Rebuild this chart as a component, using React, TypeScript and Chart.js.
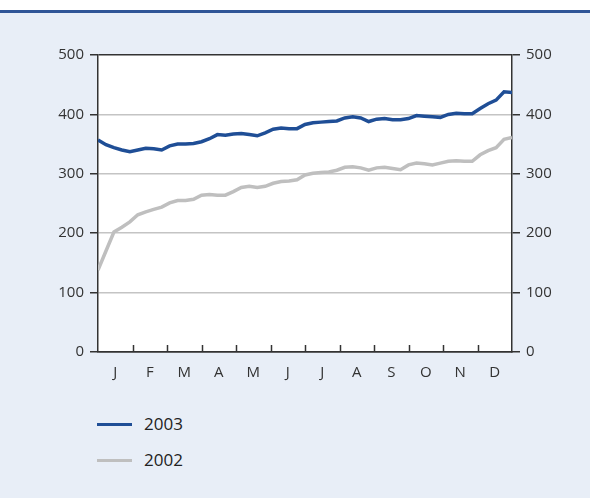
import React, { useEffect, useRef } from "react";
import { Chart, registerables } from "chart.js";

Chart.register(...registerables);

const MONTHS = ["J", "F", "M", "A", "M", "J", "J", "A", "S", "O", "N", "D"];
const Y_TICKS = [0, 100, 200, 300, 400, 500];
const SERIES_LABELS = ["2003", "2002"];

// weekly values, week 0..52
const VALUES_2003 = [
  357, 349, 344, 340, 337, 340, 343, 342, 340, 347, 350, 350, 351, 354, 359, 366,
  365, 367, 368, 366, 364, 369, 375, 377, 376, 376, 383, 386, 387, 388, 389, 394,
  396, 394, 388, 392, 393, 391, 391, 393, 398, 397, 396, 395, 400, 402, 401, 401,
  410, 418, 424, 438, 437,
];
const VALUES_2002 = [
  138, 170, 202, 210, 219, 231, 236, 240, 244, 251, 255, 255, 257, 264, 265, 264,
  264, 270, 277, 279, 277, 279, 284, 287, 288, 290, 298, 301, 302, 303, 306, 311,
  312, 310, 306, 310, 311, 309, 307, 315, 318, 317, 315, 318, 321, 322, 321, 321,
  332, 339, 344, 358, 361,
];

const BLUE = "#1f4e96";
const GREY = "#bfbfbf";
const BG = "#e8eef7";
const DARK = "#333333";
const FONT = "'Open Sans', 'Noto Sans', sans-serif";

const plotBg = {
  id: "plotBg",
  beforeDraw(chart: any) {
    const { ctx, chartArea } = chart;
    ctx.save();
    ctx.fillStyle = "#ffffff";
    ctx.fillRect(chartArea.left, chartArea.top, chartArea.right - chartArea.left, chartArea.bottom - chartArea.top);
    ctx.restore();
  },
};

const innerTicks = {
  id: "innerTicks",
  afterDraw(chart: any) {
    const { ctx, chartArea } = chart;
    const sx = chart.scales.x;
    ctx.save();
    ctx.strokeStyle = DARK;
    ctx.lineWidth = 1.5;
    for (let i = 1; i < MONTHS.length; i++) {
      const px = Math.round((sx.getPixelForTick(i - 1) + sx.getPixelForTick(i)) / 2) + 0.5;
      ctx.beginPath();
      ctx.moveTo(px, chartArea.bottom);
      ctx.lineTo(px, chartArea.bottom - 7);
      ctx.stroke();
    }
    ctx.restore();
  },
};

export default function App() {
  const ref = useRef<HTMLCanvasElement | null>(null);

  useEffect(() => {
    if (!ref.current) return;
    const chart = new Chart(ref.current, {
      type: "line",
      data: {
        datasets: [
          {
            label: SERIES_LABELS[1],
            data: VALUES_2002.map((v, i) => ({ x: i, y: v })),
            borderColor: GREY,
            borderWidth: 3.5,
            pointRadius: 0,
            tension: 0,
            xAxisID: "xd",
            yAxisID: "y",
          },
          {
            label: SERIES_LABELS[0],
            data: VALUES_2003.map((v, i) => ({ x: i, y: v })),
            borderColor: BLUE,
            borderWidth: 3.5,
            pointRadius: 0,
            tension: 0,
            xAxisID: "xd",
            yAxisID: "y",
          },
        ],
      },
      options: {
        animation: false,
        responsive: false,
        maintainAspectRatio: false,
        layout: { padding: { top: 55, left: 0, right: 0, bottom: 0 } },
        plugins: { legend: { display: false }, tooltip: { enabled: false } },
        scales: {
          xd: {
            type: "linear",
            display: false,
            min: 0,
            max: VALUES_2003.length - 1,
          },
          x: {
            type: "category",
            labels: MONTHS,
            position: "bottom",
            offset: true,
            grid: { display: false, drawTicks: false },
            border: { display: true, color: DARK, width: 1.5 },
            ticks: { color: DARK, font: { family: FONT, size: 15 }, padding: 12, maxRotation: 0, autoSkip: false },
            afterFit: (s: any) => {
              s.height = 48;
            },
          },
          y: {
            type: "linear",
            position: "left",
            min: 0,
            max: 500,
            afterBuildTicks: (s: any) => {
              s.ticks = Y_TICKS.map((v) => ({ value: v }));
            },
            grid: {
              color: (c: any) => (c.tick && (c.tick.value === 500 || c.tick.value === 0) ? DARK : "#c4c4c4"),
              lineWidth: 1.5,
              tickColor: DARK,
              tickLength: 8,
            },
            border: { display: true, color: DARK, width: 1.5 },
            ticks: { color: DARK, font: { family: FONT, size: 15 }, padding: 6 },
            afterFit: (s: any) => {
              s.width = 98;
            },
          },
          y2: {
            type: "linear",
            position: "right",
            min: 0,
            max: 500,
            afterBuildTicks: (s: any) => {
              s.ticks = Y_TICKS.map((v) => ({ value: v }));
            },
            grid: { drawOnChartArea: false, tickColor: DARK, tickLength: 8, lineWidth: 1.5 },
            border: { display: true, color: DARK, width: 1.5 },
            ticks: { color: DARK, font: { family: FONT, size: 15 }, padding: 6 },
            afterFit: (s: any) => {
              s.width = 78;
            },
          },
        },
      } as any,
      plugins: [plotBg, innerTicks],
    });
    return () => chart.destroy();
  }, []);

  const legendRow = (label: string, color: string, top: number) => (
    <div style={{ position: "absolute", left: 97, top, height: 20, display: "flex", alignItems: "center" }}>
      <div style={{ width: 35, height: 3, background: color }} />
      <span style={{ marginLeft: 12, fontFamily: FONT, fontSize: 17, color: "#222", lineHeight: "20px" }}>{label}</span>
    </div>
  );

  return (
    <div style={{ position: "fixed", left: 0, top: 0, width: 590, height: 498, background: "#ffffff", overflow: "hidden" }}>
      <div style={{ position: "absolute", left: 0, top: 10, width: 590, height: 3, background: "#2f5597" }} />
      <div style={{ position: "absolute", left: 0, top: 13, width: 590, height: 485, background: BG }} />
      <canvas ref={ref} width={590} height={400} style={{ position: "absolute", left: 0, top: 0, width: 590, height: 400 }} />
      {legendRow(SERIES_LABELS[0], BLUE, 414)}
      {legendRow(SERIES_LABELS[1], GREY, 450)}
    </div>
  );
}
